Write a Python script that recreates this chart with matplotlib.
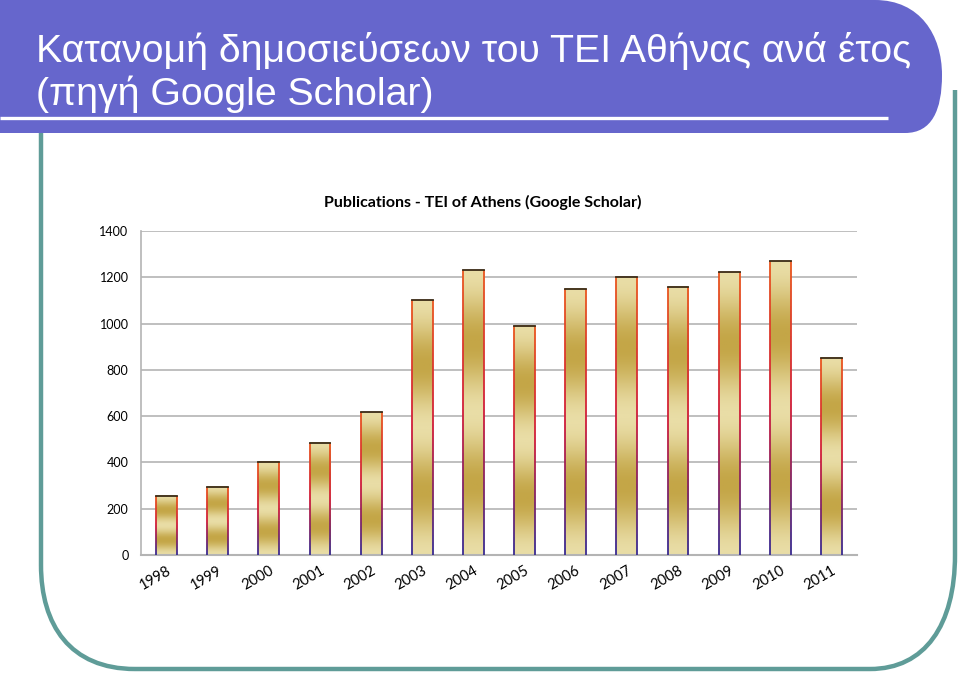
import numpy as np
import matplotlib
matplotlib.use("Agg")
import matplotlib.pyplot as plt
from matplotlib.path import Path
from matplotlib.patches import PathPatch
from matplotlib.collections import LineCollection
from matplotlib.colors import LinearSegmentedColormap

years = ['1998', '1999', '2000', '2001', '2002', '2003', '2004',
         '2005', '2006', '2007', '2008', '2009', '2010', '2011']
pubs = [255, 295, 400, 485, 616, 1100, 1230, 990, 1150, 1200, 1160, 1222, 1270, 853]
yticks = [0, 200, 400, 600, 800, 1000, 1200, 1400]

title_line1 = "Κατανομή δημοσιεύσεων του ΤΕΙ Αθήνας ανά έτος"
title_line2 = "(πηγή Google Scholar)"
chart_title = "Publications - TEI of Athens (Google Scholar)"

fig = plt.figure(figsize=(9.6, 6.76), dpi=100)

# slide decoration in pixel coords
bg = fig.add_axes([0, 0, 1, 1], zorder=0)
bg.set_xlim(0, 960)
bg.set_ylim(676, 0)
bg.axis('off')

M, L, C = Path.MOVETO, Path.LINETO, Path.CURVE4
frame = Path([(955, 90), (955, 555), (955, 625), (925, 669), (870, 669),
              (135, 669), (70, 669), (41, 625), (41, 565), (41, 130)],
             [M, L, C, C, C, L, C, C, C, L])
bg.add_patch(PathPatch(frame, fill=False, edgecolor='#5f9c98', lw=3.2, capstyle='butt'))

header = Path([(0, 0), (875, 0), (920, 0), (942, 35), (942, 75),
               (942, 110), (932, 133), (905, 133), (0, 133), (0, 0)],
              [M, L, C, C, C, C, C, C, L, Path.CLOSEPOLY])
bg.add_patch(PathPatch(header, facecolor='#6666cc', edgecolor='none', zorder=3))
bg.plot([0, 888], [118, 118], color='white', lw=2.4, zorder=4, solid_capstyle='butt')
bg.text(36, 62, title_line1, color='white', fontsize=28.3, family='Liberation Sans',
        va='baseline', ha='left', zorder=5)
bg.text(36, 105, title_line2, color='white', fontsize=28.3, family='Liberation Sans',
        va='baseline', ha='left', zorder=5)

# chart
ax = fig.add_axes([141 / 960, 121 / 676, 716 / 960, 324 / 676], zorder=1)
ax.patch.set_alpha(0)
x = np.arange(len(years))
bars = ax.bar(x, pubs, width=0.41, color='none', edgecolor='none', zorder=2)

fill_cmap = LinearSegmentedColormap.from_list('gold', ['#e9dda6', '#c4a647'])
edge_cmap = LinearSegmentedColormap.from_list('edge', ['#e8551f', '#d01c3a', '#3a2a90'])
t = np.linspace(0, 1, 200)
band = (0.5 - 0.5 * np.cos(2 * np.pi * 2 * t)).reshape(-1, 1)
for b in bars:
    x0, w, h = b.get_x(), b.get_width(), b.get_height()
    ax.imshow(band, cmap=fill_cmap, aspect='auto', extent=(x0, x0 + w, h, 0),
              origin='upper', zorder=2, interpolation='bilinear')
    ys = np.linspace(h, 0, 40)
    for xe in (x0, x0 + w):
        segs = [[(xe, ys[i]), (xe, ys[i + 1])] for i in range(len(ys) - 1)]
        lc = LineCollection(segs, colors=edge_cmap(np.linspace(0, 1, len(segs))),
                            lw=1.3, zorder=3)
        ax.add_collection(lc)
    ax.plot([x0, x0 + w], [h, h], color='#3a2a15', lw=1.3, zorder=3)

ax.set_xlim(-0.5, len(years) - 0.5)
ax.set_ylim(0, 1400)
ax.set_yticks(yticks)
ax.set_yticklabels([str(v) for v in yticks], family='Lato', fontsize=9)
ax.set_xticks(x)
ax.set_xticklabels(years, rotation=30, ha='right', rotation_mode='anchor',
                   family='Lato', fontsize=10.5)
ax.tick_params(axis='y', length=0, pad=9)
ax.tick_params(axis='x', length=0, pad=6)
ax.grid(axis='y', color='#b4b4b4', lw=1.2, zorder=0)
ax.set_axisbelow(True)
for s in ['top', 'right']:
    ax.spines[s].set_visible(False)
ax.spines['left'].set_color('#b4b4b4')
ax.spines['bottom'].set_color('#b4b4b4')
ax.spines['left'].set_linewidth(1.2)
ax.spines['bottom'].set_linewidth(1.5)

fig.text(483 / 960, 1 - 202 / 676, chart_title, ha='center', va='center',
         family='Lato', fontweight='bold', fontsize=11.5)

fig.savefig('out.png', dpi=100)
